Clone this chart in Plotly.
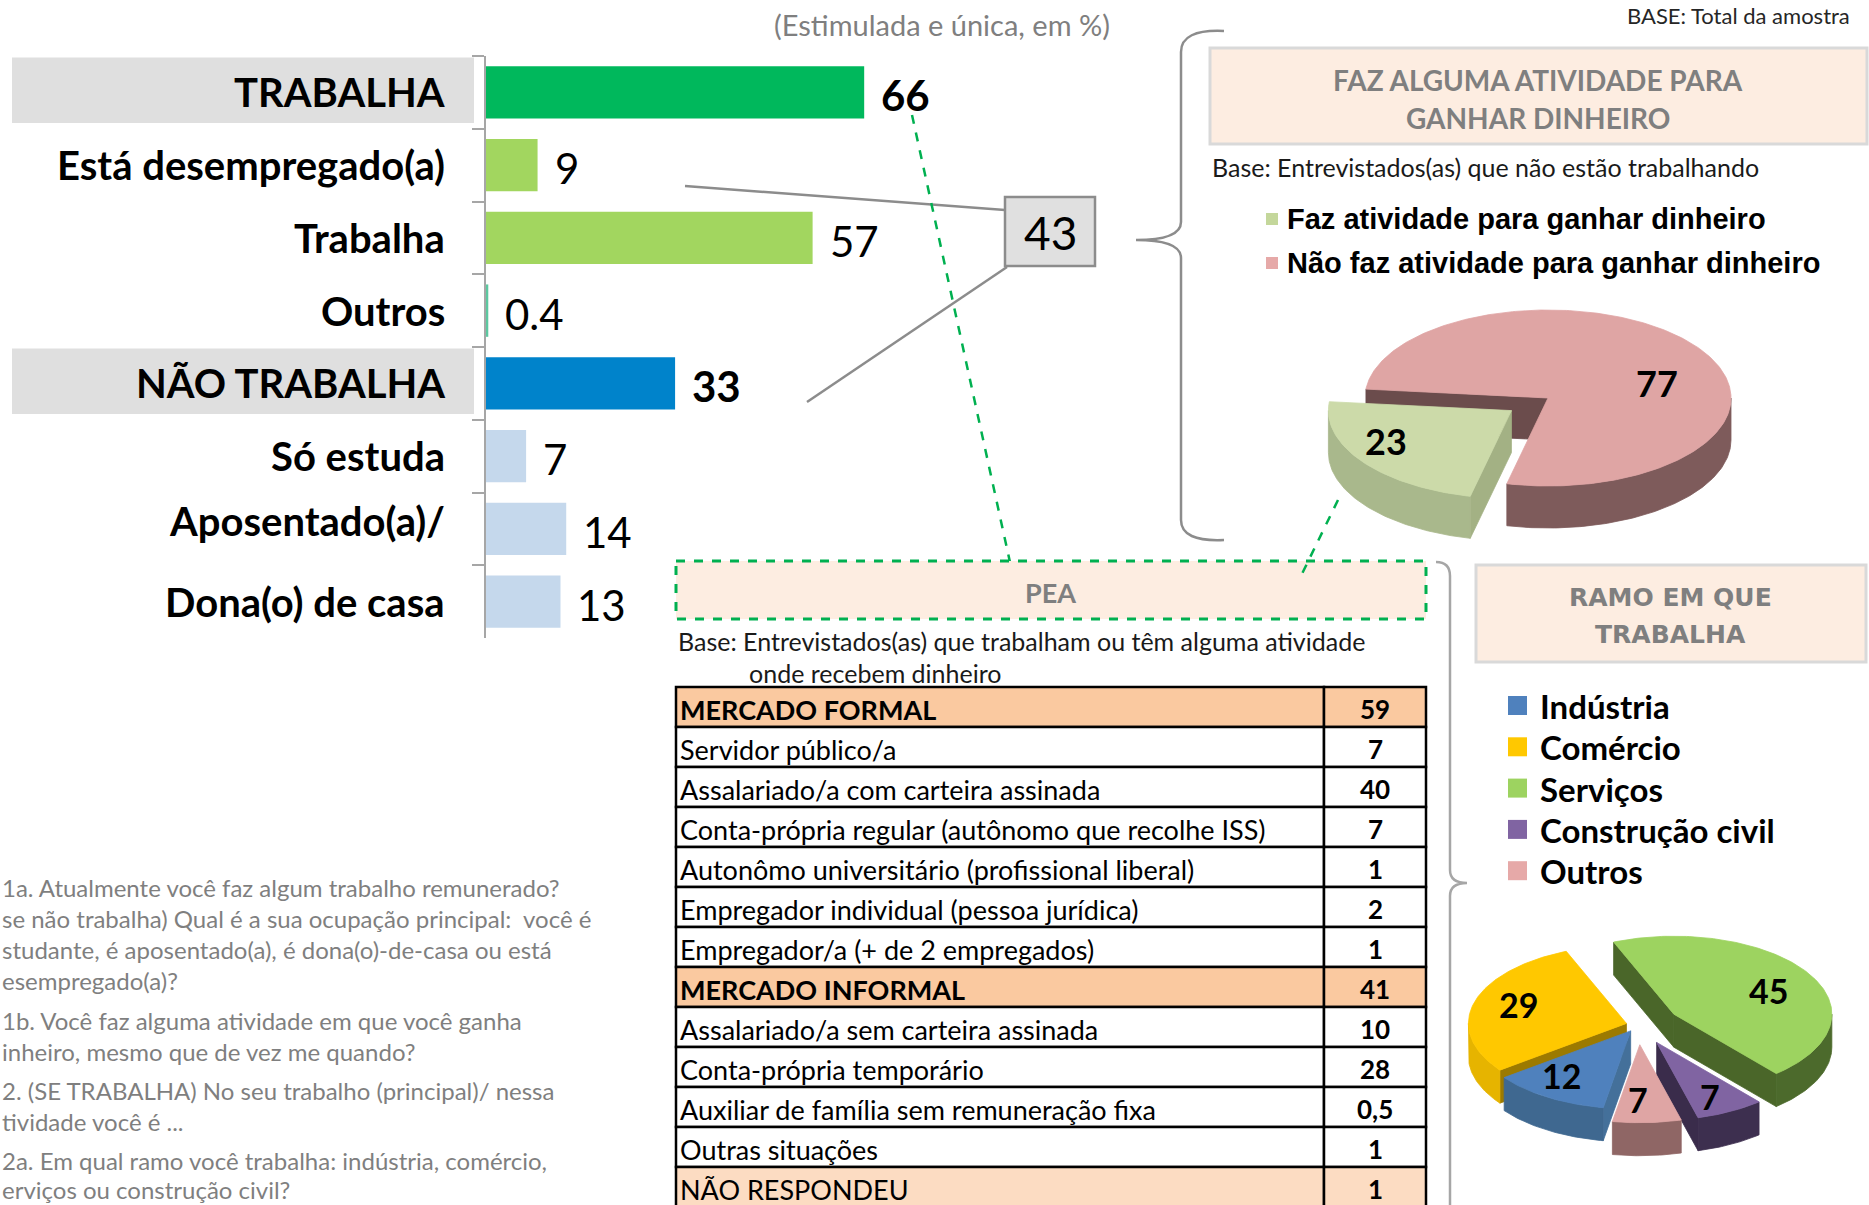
import math
import numpy as np
import plotly.graph_objects as go

W, H = 1869, 1205

# ---------------- data ----------------
BAR_CATEGORIES = ["TRABALHA", "Está desempregado(a)", "Trabalha", "Outros",
                  "NÃO TRABALHA", "Só estuda", "Aposentado(a)/", "Dona(o) de casa"]
BAR_VALUES = [66, 9, 57, 0.4, 33, 7, 14, 13]
BAR_VALUE_LABELS = ["66", "9", "57", "0.4", "33", "7", "14", "13"]

BOX_VALUE = "43"

PIE1_LABELS = ["Faz atividade para ganhar dinheiro", "Não faz atividade para ganhar dinheiro"]
PIE1_VALUES = [23, 77]

PIE2_LABELS = ["Indústria", "Comércio", "Serviços", "Construção civil", "Outros"]
PIE2_VALUES = [12, 29, 45, 7, 7]

TABLE_LABELS = ["MERCADO FORMAL", "Servidor público/a", "Assalariado/a com carteira assinada",
                "Conta-própria regular (autônomo que recolhe ISS)",
                "Autonômo universitário (profissional liberal)",
                "Empregador individual (pessoa jurídica)", "Empregador/a (+ de 2 empregados)",
                "MERCADO INFORMAL", "Assalariado/a sem carteira assinada",
                "Conta-própria temporário", "Auxiliar de família sem remuneração fixa",
                "Outras situações", "NÃO RESPONDEU"]
TABLE_VALUES = ["59", "7", "40", "7", "1", "2", "1", "41", "10", "28", "0,5", "1", "1"]
TABLE_ROW_TYPES = ["group", "item", "item", "item", "item", "item", "item",
                   "group", "item", "item", "item", "item", "nr"]

QUESTION_LINES = [
    "1a. Atualmente você faz algum trabalho remunerado?",
    "se não trabalha) Qual é a sua ocupação principal:  você é",
    "studante, é aposentado(a), é dona(o)-de-casa ou está",
    "esempregado(a)?",
    "1b. Você faz alguma atividade em que você ganha",
    "inheiro, mesmo que de vez me quando?",
    "2. (SE TRABALHA) No seu trabalho (principal)/ nessa",
    "tividade você é ...",
    "2a. Em qual ramo você trabalha: indústria, comércio,",
    "erviços ou construção civil?",
]

# ---------------- styles / layout ----------------
FONT = "Lato"
GREY_TXT = "#7F7F7F"
BAR_COLORS = ["#00B85C", "#A2D65F", "#A2D65F", "#5CC8A0",
              "#0083CB", "#C5D8EC", "#C5D8EC", "#C5D8EC"]
BAR_BOLD = [True, False, False, False, True, False, False, False]
BAR_BOXED = [True, False, False, False, True, False, False, False]
LABEL_YSHIFT = [0, 0, 0, 0, 0, 0, 8, 0]

AX_X0 = 486          # pixel x of bar axis
PX_PER_UNIT = 5.73
BAR_TOP, BAR_BOT = 56, 638

PIE1_TOP = ["#CCDAA9", "#DFA5A4"]
PIE1_WALL = ["#A9B88C", "#7E5B5B"]
PIE1_FACE = ["#A3B184", "#6B4C4C"]
PIE1_PULL = [45, 0]
PIE1_LEGEND = ["#C4D79B", "#E6A9A8"]
PIE1_LABEL_SHIFT = [(-18, -6), (2, 22)]

PIE2_TOP = ["#4F81BD", "#FFC800", "#9DD360", "#8064A2", "#DFA5A4"]
PIE2_WALL = ["#3F6890", "#E6B400", "#4C6A2C", "#3D2F4F", "#8F6665"]
PIE2_FACE = ["#44709A", "#9C7A00", "#4A6629", "#3A2C4B", "#7E5A5A"]
PIE2_PULL = [14, 12, 42, 40, 40]
PIE2_LEGEND = ["#4F81BD", "#FFC800", "#9DD360", "#8064A2", "#E6A9A8"]
PIE2_LABEL_SHIFT = [(-16, 2), (-10, -6), (8, 2), (6, 10), (-6, 5)]

fig = go.Figure()

# ---------------- bar chart ----------------
fig.add_trace(go.Bar(
    y=BAR_CATEGORIES, x=BAR_VALUES, orientation="h",
    marker=dict(color=BAR_COLORS, line=dict(width=0)),
    width=0.72, hoverinfo="skip", showlegend=False,
))

shapes = []
annotations = []


def txt(x, y, s, size, color="black", bold=False, xanchor="left", yanchor="middle",
        family=FONT, xref="x2", yref="y2", **kw):
    if bold:
        s = "<b>" + s + "</b>"
    annotations.append(dict(x=x, y=y, text=s, xref=xref, yref=yref, showarrow=False,
                            xanchor=xanchor, yanchor=yanchor,
                            font=dict(family=family, size=size, color=color), **kw))


def rect(x0, y0, x1, y1, fill, line="rgba(0,0,0,0)", width=0, dash="solid",
         xref="x2", yref="y2", layer="above"):
    shapes.append(dict(type="rect", x0=x0, y0=y0, x1=x1, y1=y1, xref=xref, yref=yref,
                       fillcolor=fill, line=dict(color=line, width=width, dash=dash),
                       layer=layer))


def line(x0, y0, x1, y1, color, width=2.5, dash="solid"):
    shapes.append(dict(type="line", x0=x0, y0=y0, x1=x1, y1=y1, xref="x2", yref="y2",
                       line=dict(color=color, width=width, dash=dash)))


def path(d, color, width=2.5):
    shapes.append(dict(type="path", path=d, xref="x2", yref="y2",
                       line=dict(color=color, width=width)))


for i, (cat, val, lab) in enumerate(zip(BAR_CATEGORIES, BAR_VALUES, BAR_VALUE_LABELS)):
    if BAR_BOXED[i]:
        rect(12, i - 0.48, 474, i + 0.42, "#DFDFDF", xref="x2", yref="y", layer="below")
    txt(447, cat, cat, 40, bold=True, xanchor="right", yref="y", yshift=LABEL_YSHIFT[i])
    txt(val, cat, lab, 42, bold=BAR_BOLD[i], xref="x", yref="y", xshift=15, yshift=-3)

# subtitle & base
txt(942, 24, "(Estimulada e única, em %)", 29, color=GREY_TXT, xanchor="center")
txt(1852, 0, "BASE: Total da amostra", 22, color="#262626", xanchor="right", yanchor="top")

# connector lines and box 43
line(685, 186, 1005, 210, "#8C8C8C", 2.5)
line(807, 402, 1007, 267, "#8C8C8C", 2.5)
line(912, 115, 1013, 576, "#00B050", 2.5, "dash")
rect(1005, 197, 1095, 266, "#E0E0E0", "#8C8C8C", 2.5)
txt(1050, 232, BOX_VALUE, 46, xanchor="center")

# braces
path("M 1224,31 Q 1181,29 1181,52 L 1181,222 Q 1181,240 1136,240 "
     "Q 1181,240 1181,258 L 1181,520 Q 1181,542 1224,540", "#8C8C8C", 2.5)
path("M 1436,562 Q 1450,562 1450,576 L 1450,870 Q 1450,883 1467,883 "
     "Q 1450,883 1450,896 L 1450,1215", "#A6A6A6", 2.5)

# title box 1
rect(1210, 48, 1867, 144, "#FDEDE1", "#D9D9D9", 3)
txt(1538, 80, "FAZ ALGUMA ATIVIDADE PARA", 28, color=GREY_TXT, bold=True, xanchor="center")
txt(1538, 118, "GANHAR DINHEIRO", 28, color=GREY_TXT, bold=True, xanchor="center")
txt(1210, 167, "Base: Entrevistados(as) que não estão trabalhando", 25, color="#1A1A1A")

# legend 1
for k, (lab, col) in enumerate(zip(PIE1_LABELS, PIE1_LEGEND)):
    yc = 219 + 44 * k
    rect(1266, yc - 6, 1278, yc + 6, col)
    txt(1285, yc, lab, 29, bold=True, family="Liberation Sans")


# ---------------- 3D pies ----------------
def poly(xs, ys, color):
    return go.Scatter(x=xs, y=ys, mode="lines", fill="toself", fillcolor=color,
                      line=dict(color=color, width=0.8), hoverinfo="skip",
                      showlegend=False, xaxis="x2", yaxis="y2")


def pie3d(values, start, cx, cy, a, b, depth, pulls, tops, walls, faces, lab_r, lab_size, lab_shift):
    total = float(sum(values))
    sl = []
    t = start
    for i, v in enumerate(values):
        span = 360.0 * v / total
        t0, t1 = t, t + span
        t += span
        m = math.radians((t0 + t1) / 2)
        ox = pulls[i] * math.sin(m)
        oy = -pulls[i] * math.cos(m) * b / a
        sl.append((-math.cos(m), i, t0, t1, ox, oy, m))
    sl.sort()
    for _, i, t0, t1, ox, oy, m in sl:
        X, Y = cx + ox, cy + oy

        def P(th):
            r = math.radians(th)
            return X + a * math.sin(r), Y - b * math.cos(r)

        # radial cut faces
        for th, vis in ((t0, math.sin(math.radians(t0)) < 0),
                        (t1, math.sin(math.radians(t1)) > 0)):
            if vis:
                px, py = P(th)
                fig.add_trace(poly([X, px, px, X, X], [Y, py, py + depth, Y + depth, Y], faces[i]))
        # outer wall (front part)
        for lo, hi in ((90, 270), (450, 630), (-270, -90)):
            s0, s1 = max(t0, lo), min(t1, hi)
            if s1 > s0:
                ths = np.linspace(s0, s1, max(3, int(s1 - s0) + 1))
                pts = [P(th) for th in ths]
                xs = [p[0] for p in pts] + [p[0] for p in reversed(pts)]
                ys = [p[1] for p in pts] + [p[1] + depth for p in reversed(pts)]
                fig.add_trace(poly(xs + [xs[0]], ys + [ys[0]], walls[i]))
        # top face
        ths = np.linspace(t0, t1, max(3, int(t1 - t0) + 1))
        pts = [P(th) for th in ths]
        fig.add_trace(poly([X] + [p[0] for p in pts] + [X], [Y] + [p[1] for p in pts] + [Y], tops[i]))
        # value label
        lx = X + lab_r * a * math.sin(m) + lab_shift[i][0]
        ly = Y - lab_r * b * math.cos(m) + lab_shift[i][1]
        txt(lx, ly, f"{values[i]:g}", lab_size, bold=True, xanchor="center")


pie3d(PIE1_VALUES, 193, 1548, 398, 183, 88, 42, PIE1_PULL, PIE1_TOP, PIE1_WALL, PIE1_FACE,
      0.72, 36, PIE1_LABEL_SHIFT)

# ---------------- PEA & table ----------------
rect(676, 561, 1426, 619, "#FDEDE1", "#00B050", 3, "dash")
line(1338, 500, 1300, 578, "#00B050", 2.5, "dash")
txt(1050, 592, "PEA", 27, color=GREY_TXT, bold=True, xanchor="center")
txt(676, 641, "Base: Entrevistados(as) que trabalham ou têm alguma atividade", 25, color="#1A1A1A")
txt(747, 673, "onde recebem dinheiro", 25, color="#1A1A1A")

T_X0, T_XD, T_X1, T_Y0, T_RH = 676, 1324, 1426, 687, 40
ROW_FILL = {"group": "#FAC9A0", "item": "#FFFFFF", "nr": "#FCDCC2"}
for r, (lab, val, kind) in enumerate(zip(TABLE_LABELS, TABLE_VALUES, TABLE_ROW_TYPES)):
    y0 = T_Y0 + r * T_RH
    rect(T_X0, y0, T_XD, y0 + T_RH, ROW_FILL[kind], "#000000", 2.5)
    rect(T_XD, y0, T_X1, y0 + T_RH, ROW_FILL[kind], "#000000", 2.5)
    txt(T_X0 + 2, y0 + T_RH / 2 + 2, lab, 27, bold=(kind == "group"))
    txt((T_XD + T_X1) / 2, y0 + T_RH / 2 + 2, val, 26, bold=True, xanchor="center")

# ---------------- ramo ----------------
rect(1476, 565, 1866, 662, "#FDEDE1", "#D9D9D9", 3)
txt(1670, 597, "RAMO EM QUE", 25, color=GREY_TXT, bold=True, xanchor="center", family="DejaVu Sans")
txt(1670, 634, "TRABALHA", 25, color=GREY_TXT, bold=True, xanchor="center", family="DejaVu Sans")
for k, (lab, col) in enumerate(zip(PIE2_LABELS, PIE2_LEGEND)):
    yc = 706 + 41.3 * k
    rect(1508, yc - 10, 1527, yc + 9, col)
    txt(1538, yc, lab, 33, bold=True)

pie3d(PIE2_VALUES, 190, 1638, 1025, 158, 78, 33, PIE2_PULL, PIE2_TOP, PIE2_WALL, PIE2_FACE,
      0.64, 34, PIE2_LABEL_SHIFT)

# ---------------- questions ----------------
Q_Y = [887, 918, 949, 980, 1020, 1051, 1090, 1121, 1160, 1189]
for s, yq in zip(QUESTION_LINES, Q_Y):
    txt(0, yq, s, 24, color=GREY_TXT)

# ---------------- layout ----------------
fig.update_layout(
    width=W, height=H, autosize=False,
    margin=dict(l=0, r=0, t=0, b=0, pad=0),
    paper_bgcolor="white", plot_bgcolor="rgba(0,0,0,0)",
    showlegend=False, bargap=0.28,
    font=dict(family=FONT),
    xaxis=dict(domain=[AX_X0 / W, (AX_X0 + 100 * PX_PER_UNIT) / W], range=[0, 100],
               visible=False, fixedrange=True),
    yaxis=dict(domain=[1 - BAR_BOT / H, 1 - BAR_TOP / H], type="category",
               categoryorder="array", categoryarray=BAR_CATEGORIES, autorange="reversed",
               showline=True, linecolor="#A6A6A6", linewidth=2, ticks="outside",
               tickson="boundaries", ticklen=12, tickwidth=2, tickcolor="#A6A6A6",
               showticklabels=False, showgrid=False, zeroline=False, fixedrange=True),
    xaxis2=dict(domain=[0, 1], range=[0, W], visible=False, anchor="y2", fixedrange=True),
    yaxis2=dict(domain=[0, 1], range=[H, 0], visible=False, anchor="x2", fixedrange=True),
    shapes=shapes, annotations=annotations,
)

fig.write_html("out.html", config=dict(displayModeBar=False),
               post_script="document.body.style.margin='0';document.body.style.overflow='hidden';")
